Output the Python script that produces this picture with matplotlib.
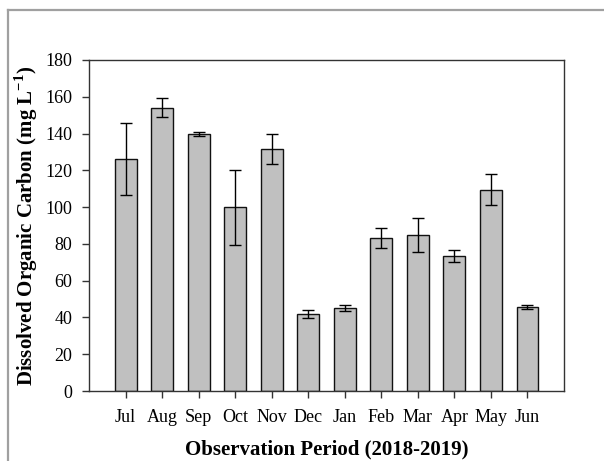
import numpy as np
import matplotlib.pyplot as plt
from matplotlib.lines import Line2D

months = ["Jul", "Aug", "Sep", "Oct", "Nov", "Dec", "Jan", "Feb", "Mar", "Apr", "May", "Jun"]
doc_mean = [126.3, 154.0, 140.0, 99.9, 131.4, 41.8, 45.0, 83.2, 84.8, 73.5, 109.5, 45.6]
doc_err = [19.5, 5.2, 1.1, 20.3, 8.2, 2.2, 1.5, 5.6, 9.2, 3.3, 8.3, 0.9]
y_ticks = [0, 20, 40, 60, 80, 100, 120, 140, 160, 180]

plt.rcParams["font.family"] = ["Liberation Serif", "DejaVu Serif"]
plt.rcParams["mathtext.fontset"] = "custom"
plt.rcParams["mathtext.rm"] = "Liberation Serif:bold"
plt.rcParams["mathtext.bf"] = "Liberation Serif:bold"


def main():
    fig = plt.figure(figsize=(6.04, 4.61), dpi=100)
    ax = fig.add_axes([89 / 604, 70 / 461, 475 / 604, 331 / 461])

    x = np.arange(len(months))
    ax.bar(x, doc_mean, width=0.6, color="#c0c0c0", edgecolor="#111111", linewidth=1.0, zorder=2)
    ax.errorbar(x, doc_mean, yerr=doc_err, fmt="none", ecolor="black",
                elinewidth=1.0, capsize=4, capthick=1.0, zorder=3)

    ax.set_xlim(-1, 12)
    ax.set_ylim(0, 180)
    ax.set_xticks(x)
    ax.set_xticklabels(months)
    ax.set_yticks(y_ticks)
    ax.tick_params(axis="both", direction="out", length=5, width=1, labelsize=13, color="#333333")
    ax.tick_params(axis="x", pad=8)
    ax.tick_params(axis="y", pad=7)
    for sp in ax.spines.values():
        sp.set_color("#333333")
        sp.set_linewidth(1.0)

    ax.set_xlabel("Observation Period (2018-2019)", fontsize=15, fontweight="bold", labelpad=10)
    ax.set_ylabel(r"Dissolved Organic Carbon (mg L$^{\mathbf{-1}}$)", fontsize=15,
                  fontweight="bold", labelpad=4)

    # gray frame around the picture (left and top edges visible)
    fig.add_artist(Line2D([8 / 604, 8 / 604], [0, 1 - 10 / 461], transform=fig.transFigure,
                          color="#a0a0a0", linewidth=1.6))
    fig.add_artist(Line2D([8 / 604, 1], [1 - 10 / 461, 1 - 10 / 461], transform=fig.transFigure,
                          color="#a0a0a0", linewidth=1.6))

    fig.savefig("out.png", dpi=100)


if __name__ == "__main__":
    main()
